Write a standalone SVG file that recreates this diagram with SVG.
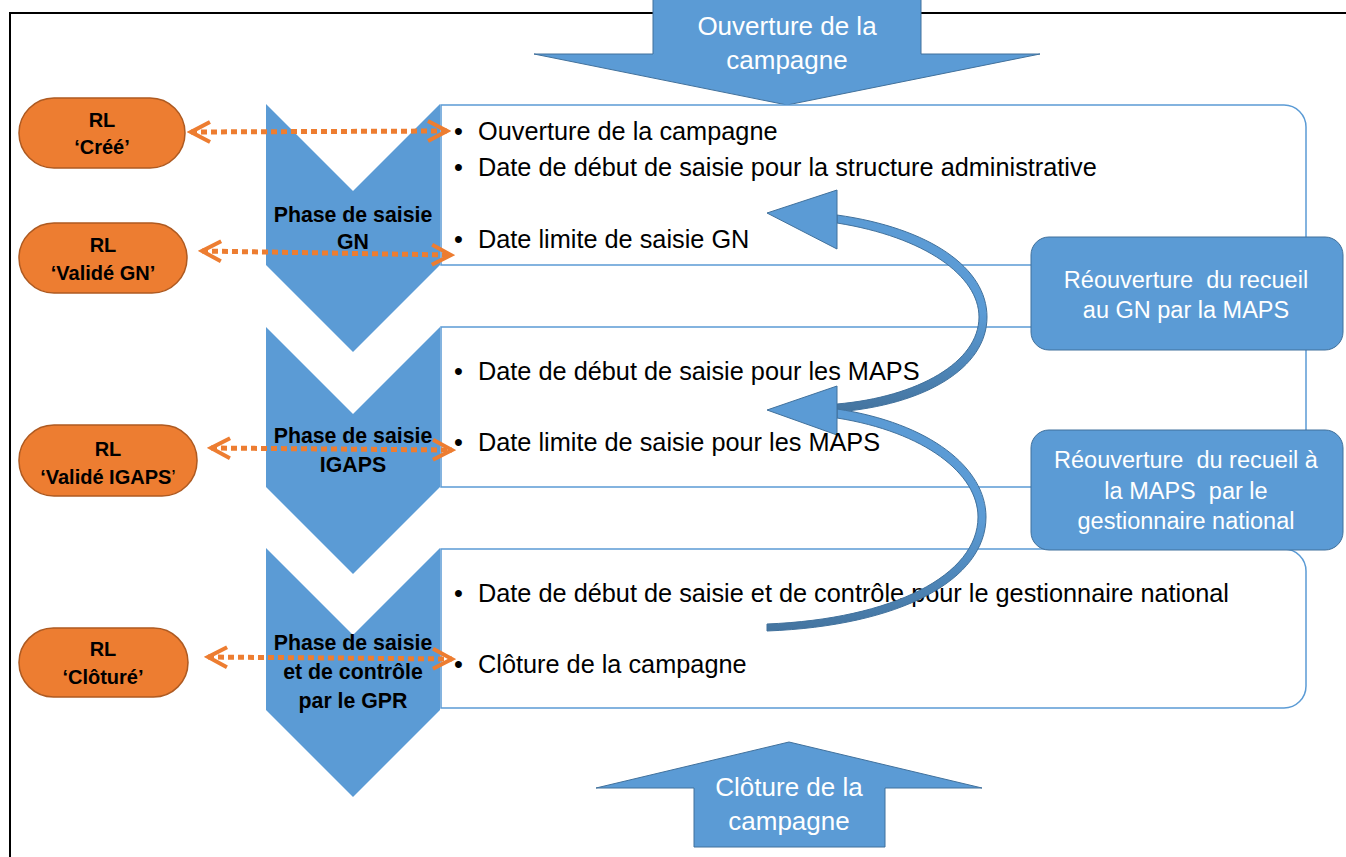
<svg xmlns="http://www.w3.org/2000/svg" width="1346" height="857" viewBox="0 0 1346 857">
<defs>
<style>
.t{font-family:"Liberation Sans",Arial,sans-serif;}
.bul{font-family:"Liberation Sans",Arial,sans-serif;font-size:25.3px;fill:#000;}
.ph{font-family:"Liberation Sans",Arial,sans-serif;font-size:21.3px;font-weight:bold;fill:#000;text-anchor:middle;}
.rl{font-family:"Liberation Sans",Arial,sans-serif;font-size:20px;font-weight:bold;fill:#000;text-anchor:middle;}
.wt{font-family:"Liberation Sans",Arial,sans-serif;fill:#fff;text-anchor:middle;}
.box{fill:#fff;stroke:#5B9BD5;stroke-width:1.5;}
.chev{fill:#5B9BD5;}
.blue{fill:#5B9BD5;stroke:#41719C;stroke-width:1;}
.pill{fill:#ED7D31;stroke:#AE5A21;stroke-width:1.5;}
.dot{fill:none;stroke:#ED7D31;stroke-width:5;stroke-dasharray:6 4;marker-start:url(#oh);marker-end:url(#oh);}
.band{stroke:#41719C;stroke-width:1;}
</style>
<marker id="oh" viewBox="-22 -13 26 26" markerWidth="26" markerHeight="26" refX="0" refY="0" orient="auto-start-reverse" markerUnits="userSpaceOnUse">
<path d="M-19,-10 L0,0 L-19,10" fill="none" stroke="#ED7D31" stroke-width="4" stroke-dasharray="none"/>
</marker>
<linearGradient id="bg" x1="0" y1="0" x2="0" y2="1">
<stop offset="0" stop-color="#5B9BD5"/>
<stop offset="0.5" stop-color="#5B9BD5"/>
<stop offset="1" stop-color="#44749F"/>
</linearGradient>
</defs>
<rect x="0" y="0" width="1346" height="857" fill="#fff"/>
<rect id="frame" x="10" y="13" width="1338" height="900" fill="none" stroke="#000" stroke-width="2"/>

<g id="ouverture">
<polygon class="blue" points="653,-5 921,-5 921,54 1040,54 787,105 534,54 653,54"/>
<text class="wt" x="787" y="35" font-size="26">Ouverture de la</text>
<text class="wt" x="787" y="69" font-size="26">campagne</text>
</g>

<g id="boxes">
<path id="box-gn" class="box" d="M441,105 H1284 A22,22 0 0 1 1306,127 V243 A22,22 0 0 1 1284,265 H441 Z"/>
<path id="box-igaps" class="box" d="M441,327 H1284 A22,22 0 0 1 1306,349 V465 A22,22 0 0 1 1284,487 H441 Z"/>
<path id="box-gpr" class="box" d="M441,549 H1284 A22,22 0 0 1 1306,571 V686 A22,22 0 0 1 1284,708 H441 Z"/>
</g>

<g id="text-gpr">
<text class="bul" x="454" y="602">•</text>
<text class="bul" x="478" y="602">Date de début de saisie et de contrôle pour le gestionnaire national</text>
<text class="bul" x="454" y="673">•</text>
<text class="bul" x="478" y="673">Clôture de la campagne</text>
</g>

<g id="connectors">
<g id="reopen-gn-arrow">
<path class="band" fill="url(#bg)" d="M837,215 C930,228 987,268 987,317 C987,368 925,405 837,412 L837,404 C918,397 979,362 979,317 C979,276 925,237 837,223 Z"/>
<polygon class="blue" points="767,213 837,190 837,249"/>
</g>
<g id="reopen-maps-arrow">
<path class="band" fill="url(#bg)" d="M837,409 C930,423 986,468 986,517 C986,580 900,626 767,631 L767,624 C893,619 978,575 978,517 C978,474 925,432 837,418 Z"/>
<polygon class="blue" points="767,410 837,386 837,435"/>
</g>
</g>

<g id="text-gn">
<text class="bul" x="454" y="140">•</text>
<text class="bul" x="478" y="140">Ouverture de la campagne</text>
<text class="bul" x="454" y="176">•</text>
<text class="bul" x="478" y="176">Date de début de saisie pour la structure administrative</text>
<text class="bul" x="454" y="248">•</text>
<text class="bul" x="478" y="248">Date limite de saisie GN</text>
</g>
<g id="text-igaps">
<text class="bul" x="454" y="380">•</text>
<text class="bul" x="478" y="380">Date de début de saisie pour les MAPS</text>
<text class="bul" x="454" y="451">•</text>
<text class="bul" x="478" y="451">Date limite de saisie pour les MAPS</text>
</g>

<g id="reouverture-gn">
<rect class="blue" x="1031" y="237" width="312" height="113" rx="18"/>
<text class="wt" x="1186" y="288" font-size="23.5" xml:space="preserve">Réouverture  du recueil</text>
<text class="wt" x="1186" y="318" font-size="23.5">au GN par la MAPS</text>
</g>
<g id="reouverture-maps">
<rect class="blue" x="1031" y="430" width="312" height="120" rx="18"/>
<text class="wt" x="1186" y="468" font-size="23.5" xml:space="preserve">Réouverture  du recueil à</text>
<text class="wt" x="1186" y="499" font-size="23.5" xml:space="preserve">la MAPS  par le</text>
<text class="wt" x="1186" y="529" font-size="23.5">gestionnaire national</text>
</g>

<g id="phase-gn">
<polygon class="chev" points="266,104 353,191 440,104 440,265 353,352 266,265"/>
<text class="ph" x="353" y="222">Phase de saisie</text>
<text class="ph" x="353" y="249">GN</text>
</g>
<g id="phase-igaps">
<polygon class="chev" points="266,327 353,414 440,327 440,487 353,574 266,487"/>
<text class="ph" x="353" y="443">Phase de saisie</text>
<text class="ph" x="353" y="472">IGAPS</text>
</g>
<g id="phase-gpr">
<polygon class="chev" points="266,548 353,635 440,548 440,710 353,797 266,710"/>
<text class="ph" x="353" y="650">Phase de saisie</text>
<text class="ph" x="353" y="679">et de contrôle</text>
<text class="ph" x="353" y="708">par le GPR</text>
</g>

<g id="status-links">
<path class="dot" d="M191,132 L447,131"/>
<path class="dot" d="M202,251 L451,255"/>
<path class="dot" d="M211,448 L452,450"/>
<path class="dot" d="M208,657 L452,659"/>
</g>

<g id="rl-cree">
<rect class="pill" x="19" y="98" width="166" height="70" rx="35"/>
<text class="rl" x="102" y="127">RL</text>
<text class="rl" x="102" y="154">‘Créé’</text>
</g>
<g id="rl-valide-gn">
<rect class="pill" x="19" y="223" width="168" height="70" rx="35"/>
<text class="rl" x="103" y="252">RL</text>
<text class="rl" x="103" y="280">‘Validé GN’</text>
</g>
<g id="rl-valide-igaps">
<rect class="pill" x="19" y="425" width="178" height="71" rx="35"/>
<text class="rl" x="108" y="456">RL</text>
<text class="rl" x="108" y="484">‘Validé IGAPS<tspan font-weight="normal">’</tspan></text>
</g>
<g id="rl-cloture">
<rect class="pill" x="19" y="628" width="169" height="69" rx="34.5"/>
<text class="rl" x="103" y="656">RL</text>
<text class="rl" x="103" y="684">‘Clôturé’</text>
</g>

<g id="cloture">
<polygon class="blue" points="789,742 982,788 885,788 885,847 694,847 694,788 596,788"/>
<text class="wt" x="789" y="796" font-size="26">Clôture de la</text>
<text class="wt" x="789" y="830" font-size="26">campagne</text>
</g>
</svg>
